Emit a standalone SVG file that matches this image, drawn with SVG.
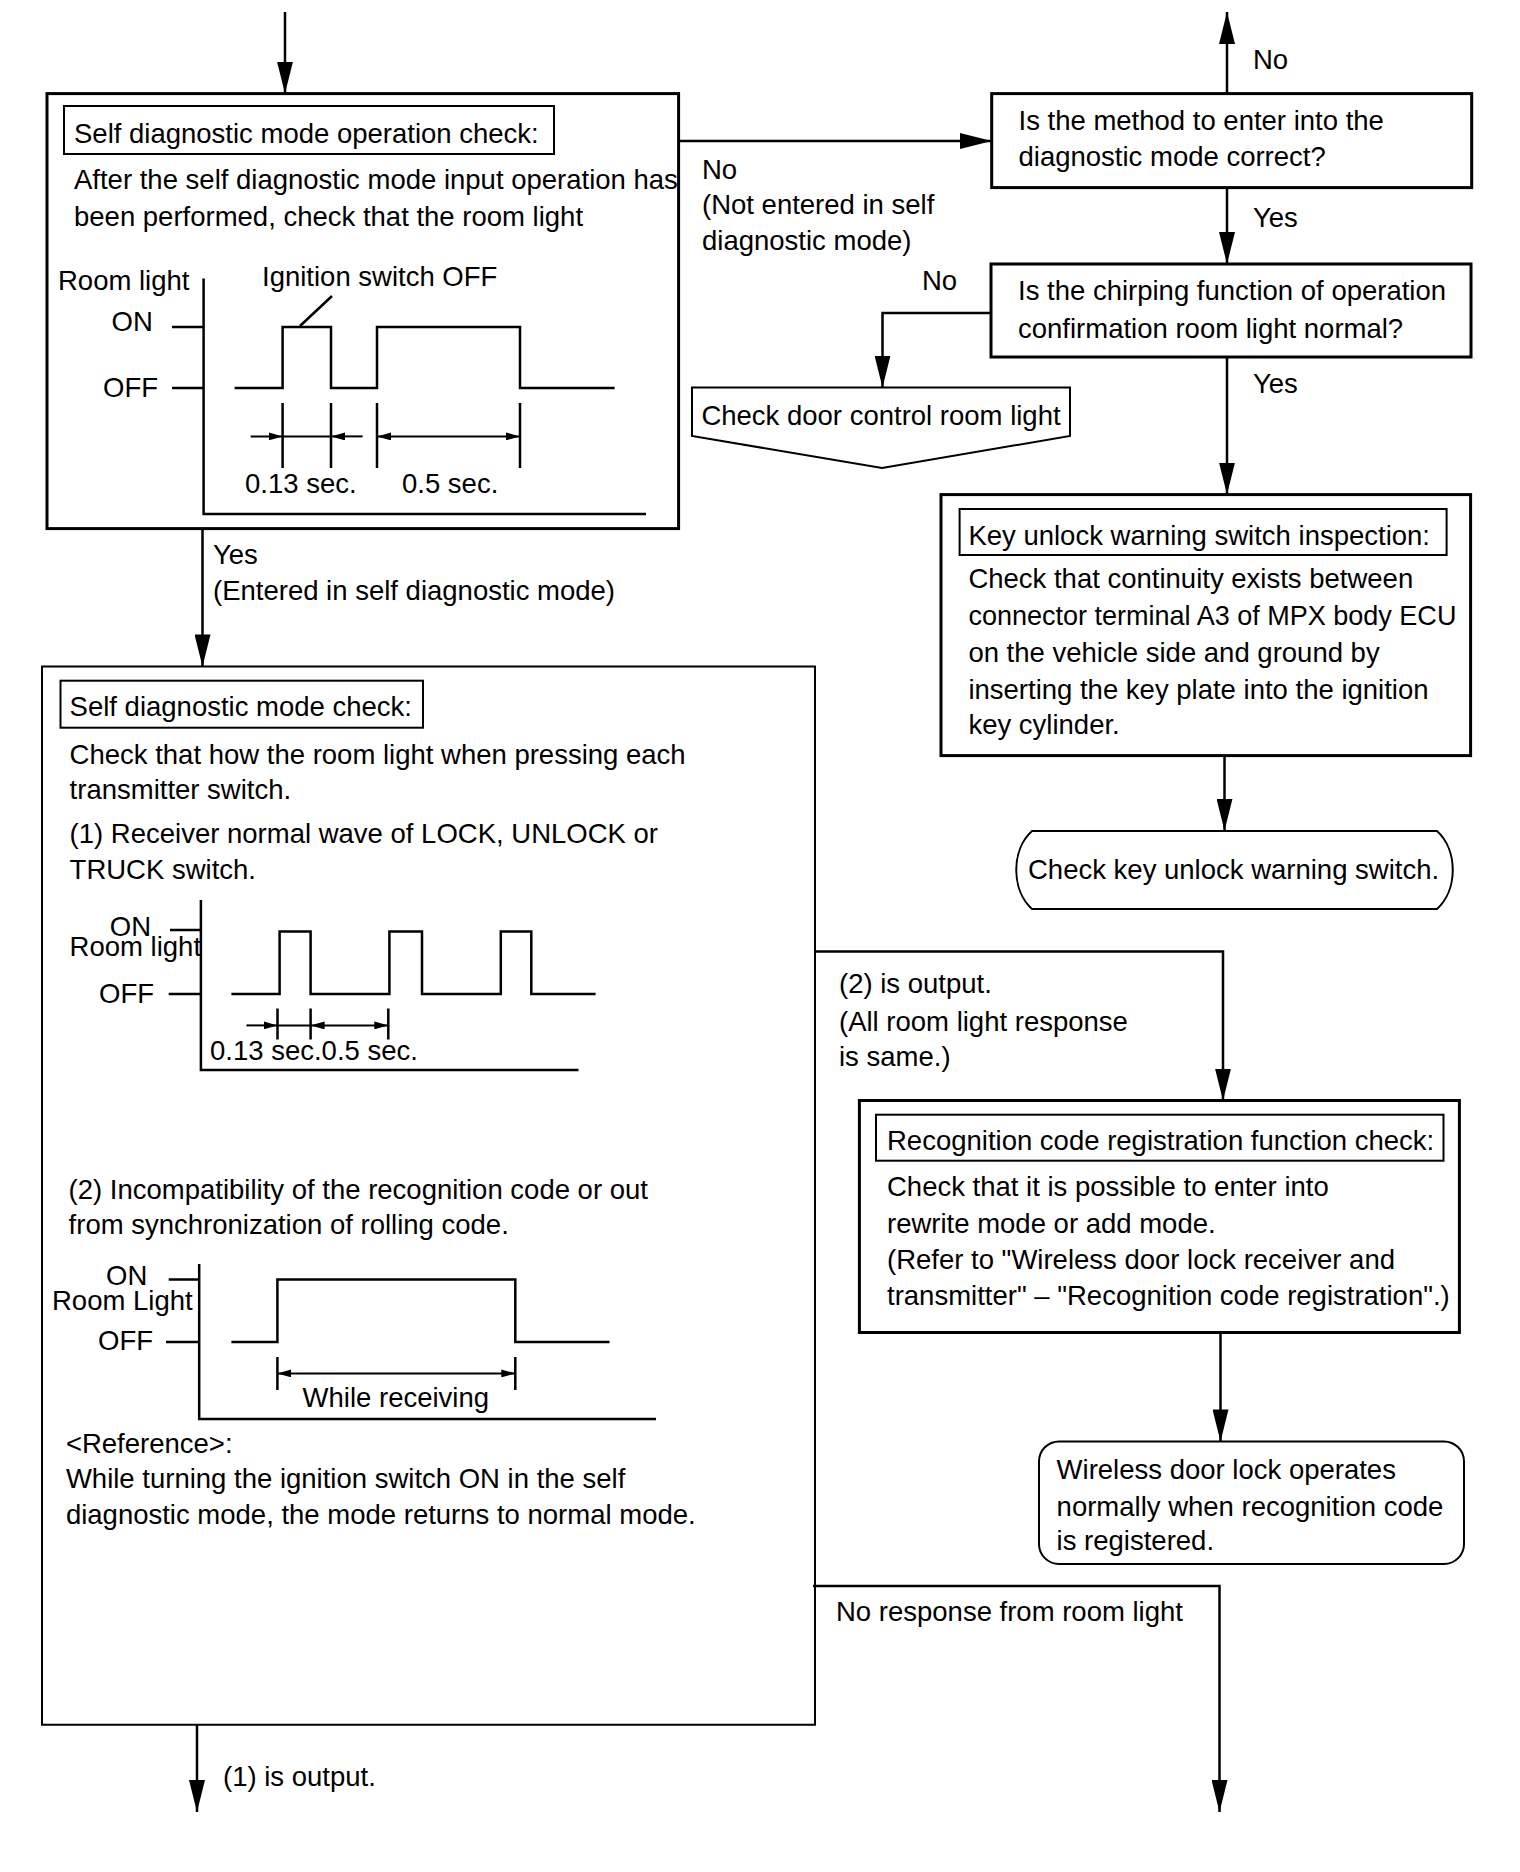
<svg xmlns="http://www.w3.org/2000/svg" width="1520" height="1872" viewBox="0 0 1520 1872">
<style>
text{font-family:"Liberation Sans",Arial,sans-serif;font-size:27.5px;fill:#000}
.box{fill:none;stroke:#000;stroke-width:3}
.thin{fill:none;stroke:#000;stroke-width:2}
.ln{fill:none;stroke:#000;stroke-width:2.5}
.con{fill:none;stroke:#000;stroke-width:2.5;marker-end:url(#ah)}
.d1{fill:none;stroke:#000;stroke-width:2;marker-end:url(#dh)}
.d2{fill:none;stroke:#000;stroke-width:2;marker-end:url(#dh);marker-start:url(#dh)}
</style>
<defs>
<marker id="ah" viewBox="0 0 32 16" refX="32" refY="8" markerWidth="32" markerHeight="16" markerUnits="userSpaceOnUse" orient="auto"><path d="M0,0 L32,8 L0,16 z" fill="#000"/></marker>
<marker id="dh" viewBox="0 0 14 8" refX="14" refY="4" markerWidth="14" markerHeight="8" markerUnits="userSpaceOnUse" orient="auto-start-reverse"><path d="M0,0 L14,4 L0,8 z" fill="#000"/></marker>
</defs>
<rect width="1520" height="1872" fill="#fff"/>

<g id="connectors">
<path class="con" d="M285,12 V93.6"/>
<path class="con" d="M678.6,141 H991.7"/>
<path class="con" d="M1227,93.6 V12"/>
<path class="con" d="M1227,187.5 V264"/>
<path class="con" d="M991,313 H882.5 V387.5"/>
<path class="con" d="M1227,357 V494.6"/>
<path class="con" d="M1224.5,755.7 V830.7"/>
<path class="con" d="M202.5,529 V666.4"/>
<path class="con" d="M815,951.4 H1223 V1100.5"/>
<path class="con" d="M1220.5,1332.6 V1441.4"/>
<path class="con" d="M813,1586 H1219.5 V1812"/>
<path class="con" d="M197,1724.8 V1812"/>
<text x="1253" y="68.6">No</text>
<text x="702" y="178.6">No</text>
<text x="702" y="214">(Not entered in self</text>
<text x="702" y="250">diagnostic mode)</text>
<text x="1253" y="226.8">Yes</text>
<text x="922" y="290">No</text>
<text x="1253" y="393">Yes</text>
<text x="213" y="563.6">Yes</text>
<text x="213" y="600.4">(Entered in self diagnostic mode)</text>
<text x="839" y="993">(2) is output.</text>
<text x="839" y="1030.7">(All room light response</text>
<text x="839" y="1066">is same.)</text>
<text x="836" y="1621.4">No response from room light</text>
<text x="223" y="1785.5">(1) is output.</text>
</g>

<g id="node-operation-check">
<rect class="box" x="47" y="93.6" width="631.6" height="435"/>
<rect class="thin" x="64" y="106" width="490" height="48"/>
<text x="74" y="143">Self diagnostic mode operation check:</text>
<text x="74" y="189">After the self diagnostic mode input operation has</text>
<text x="74" y="226">been performed, check that the room light</text>
<g id="chart1">
<path class="ln" d="M203.6,278.6 V514 H646"/>
<path class="ln" d="M172,327 H203 M172,388 H203"/>
<polyline class="ln" points="234.6,388 282.6,388 282.6,327 331,327 331,388 377,388 377,327 520,327 520,388 614.6,388"/>
<path class="ln" d="M332,296 L300,326"/>
<path class="ln" d="M282.6,403 V468 M331,403 V468 M377,403 V468 M520,403 V468"/>
<path class="d1" d="M250.6,436.4 H282.6"/>
<path class="d1" d="M362.6,436.4 H331"/>
<path class="ln" d="M282.6,436.4 H331" style="stroke-width:2"/>
<path class="d2" d="M377,436.4 H520"/>
<text x="58" y="290">Room light</text>
<text x="262" y="286">Ignition switch OFF</text>
<text x="111.5" y="331.4">ON</text>
<text x="103" y="397">OFF</text>
<text x="245" y="493">0.13 sec.</text>
<text x="402" y="493">0.5 sec.</text>
</g>
</g>

<g id="node-method-correct">
<rect class="box" x="991.7" y="93.6" width="480" height="94"/>
<text x="1018.5" y="130.4">Is the method to enter into the</text>
<text x="1018.5" y="166">diagnostic mode correct?</text>
</g>

<g id="node-chirping">
<rect class="box" x="991" y="264" width="480" height="93"/>
<text x="1018" y="300">Is the chirping function of operation</text>
<text x="1018" y="337.5">confirmation room light normal?</text>
</g>

<g id="node-door-control">
<path class="thin" d="M692,387.5 H1070 V436 L882,468 L692,436 Z"/>
<text x="701.4" y="425">Check door control room light</text>
</g>

<g id="node-key-inspection">
<rect class="box" x="941" y="494.6" width="529.6" height="261"/>
<rect class="thin" x="959.6" y="509" width="487" height="46"/>
<text x="968.4" y="545">Key unlock warning switch inspection:</text>
<text x="968.4" y="588">Check that continuity exists between</text>
<text x="968.4" y="625" textLength="488" lengthAdjust="spacingAndGlyphs">connector terminal A3 of MPX body ECU</text>
<text x="968.4" y="662">on the vehicle side and ground by</text>
<text x="968.4" y="698.6">inserting the key plate into the ignition</text>
<text x="968.4" y="734">key cylinder.</text>
</g>

<g id="node-check-key-switch">
<path class="thin" d="M1032,831 H1437 C1458,850 1458,890 1437,909 H1032 C1011,890 1011,850 1032,831 Z"/>
<text x="1028" y="879">Check key unlock warning switch.</text>
</g>

<g id="node-mode-check">
<path class="thin" d="M42,666.4 H815 V1724.8 H42 Z"/>
<rect class="thin" x="60.5" y="680.7" width="362.5" height="47"/>
<text x="69.6" y="716.4">Self diagnostic mode check:</text>
<text x="69.6" y="763.6">Check that how the room light when pressing each</text>
<text x="69.6" y="798.6">transmitter switch.</text>
<text x="69.6" y="843">(1) Receiver normal wave of LOCK, UNLOCK or</text>
<text x="69.6" y="879">TRUCK switch.</text>
<g id="chart2">
<path class="ln" d="M200.9,900 V1070 H578.5"/>
<path class="ln" d="M170,930 H201 M168.7,994 H201"/>
<polyline class="ln" points="231.4,994 279.6,994 279.6,931.4 310.6,931.4 310.6,994 389.4,994 389.4,931.4 422,931.4 422,994 500.8,994 500.8,931.4 531.3,931.4 531.3,994 595.6,994"/>
<path class="ln" d="M277.5,1008.6 V1039.6 M310.6,1008.6 V1039.6 M388.3,1008.6 V1039.6"/>
<path class="d1" d="M246.4,1025.4 H277.5"/>
<path class="ln" d="M277.5,1025.4 H310.6" style="stroke-width:2"/>
<path class="d2" d="M310.6,1025.4 H388.3"/>
<text x="109.8" y="936">ON</text>
<text x="69.6" y="956.4">Room light</text>
<text x="99" y="1003">OFF</text>
<text x="210" y="1060">0.13 sec.0.5 sec.</text>
</g>
<text x="68.6" y="1198.6">(2) Incompatibility of the recognition code or out</text>
<text x="68.6" y="1234">from synchronization of rolling code.</text>
<g id="chart3">
<path class="ln" d="M199.2,1264 V1419 H656"/>
<path class="ln" d="M168.7,1279.6 H199 M166,1342 H199"/>
<polyline class="ln" points="231.4,1342 277.4,1342 277.4,1279.6 515.3,1279.6 515.3,1342 609.5,1342"/>
<path class="ln" d="M277.4,1357 V1390 M515.3,1357 V1390"/>
<path class="d2" d="M277.4,1373.4 H515.3"/>
<text x="106" y="1285">ON</text>
<text x="52" y="1310.4">Room Light</text>
<text x="98" y="1350">OFF</text>
<text x="302.6" y="1406.6">While receiving</text>
</g>
<text x="65.9" y="1453">&lt;Reference&gt;:</text>
<text x="65.9" y="1488">While turning the ignition switch ON in the self</text>
<text x="65.9" y="1524">diagnostic mode, the mode returns to normal mode.</text>
</g>

<g id="node-recognition">
<rect class="box" x="859.4" y="1100.5" width="600" height="232"/>
<rect class="thin" x="876" y="1114.7" width="567.5" height="46"/>
<text x="887" y="1149.5">Recognition code registration function check:</text>
<text x="887" y="1196">Check that it is possible to enter into</text>
<text x="887" y="1232.5">rewrite mode or add mode.</text>
<text x="887" y="1269">(Refer to "Wireless door lock receiver and</text>
<text x="887" y="1305.4">transmitter" – "Recognition code registration".)</text>
</g>

<g id="node-wireless-ok">
<rect class="thin" x="1039" y="1441.4" width="425" height="122.6" rx="20"/>
<text x="1056.6" y="1478.6">Wireless door lock operates</text>
<text x="1056.6" y="1516">normally when recognition code</text>
<text x="1056.6" y="1550">is registered.</text>
</g>
</svg>
